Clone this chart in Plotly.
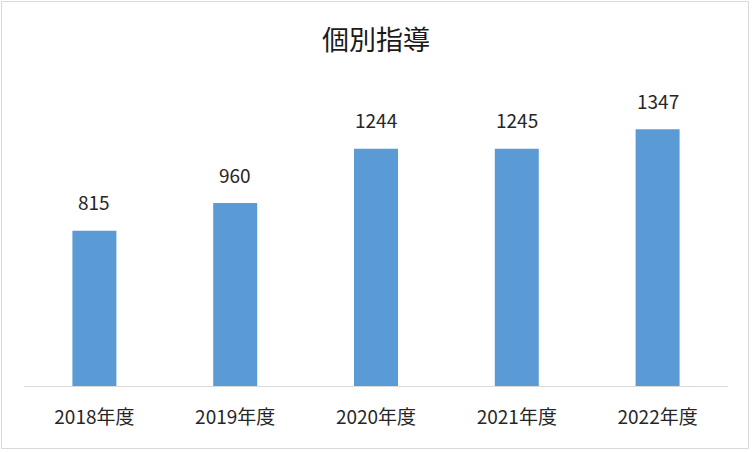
import plotly.graph_objects as go

categories = ["2018年度", "2019年度", "2020年度", "2021年度", "2022年度"]
values = [815, 960, 1244, 1245, 1347]
title_text = "個別指導"

W, H = 752, 452
L, R, T, B = 24, 24, 81, 66
pw = W - L - R
ph = H - T - B
FONT = "Noto Sans CJK JP"

fig = go.Figure(go.Bar(
    x=categories, y=values,
    marker=dict(color="#5B9BD5", line=dict(width=0)),
    hoverinfo="x+y",
))

for c, v in zip(categories, values):
    fig.add_annotation(x=c, y=v, text=str(v), showarrow=False,
                       xanchor="center", yanchor="middle", yshift=29,
                       font=dict(family=FONT, size=19, color="#262626"))

fig.update_layout(
    width=W, height=H,
    margin=dict(l=L, r=R, t=T, b=B),
    paper_bgcolor="white", plot_bgcolor="white",
    bargap=0.6875,
    showlegend=False,
    title=dict(text=title_text, x=0.5, xanchor="center", y=1 - 41 / H, yanchor="middle",
               font=dict(family=FONT, size=27, color="#1a1a1a")),
    xaxis=dict(showline=True, linecolor="#d9d9d9", linewidth=1, ticks="",
               ticklabelstandoff=14,
               tickfont=dict(family=FONT, size=19, color="#262626"),
               showgrid=False, fixedrange=True),
    yaxis=dict(range=[0, 1600], visible=False, showgrid=False, fixedrange=True),
    shapes=[dict(type="rect", xref="paper", yref="paper",
                 x0=(1.5 - L) / pw, x1=(W - 3.5 - L) / pw,
                 y0=-(H - 3.5 - (H - B)) / ph, y1=(H - B - 1.5) / ph,
                 line=dict(color="#d9d9d9", width=1), fillcolor="rgba(0,0,0,0)")],
)

fig.write_html("out.html", config={"displayModeBar": False},
               post_script="document.body.style.margin='0';")
